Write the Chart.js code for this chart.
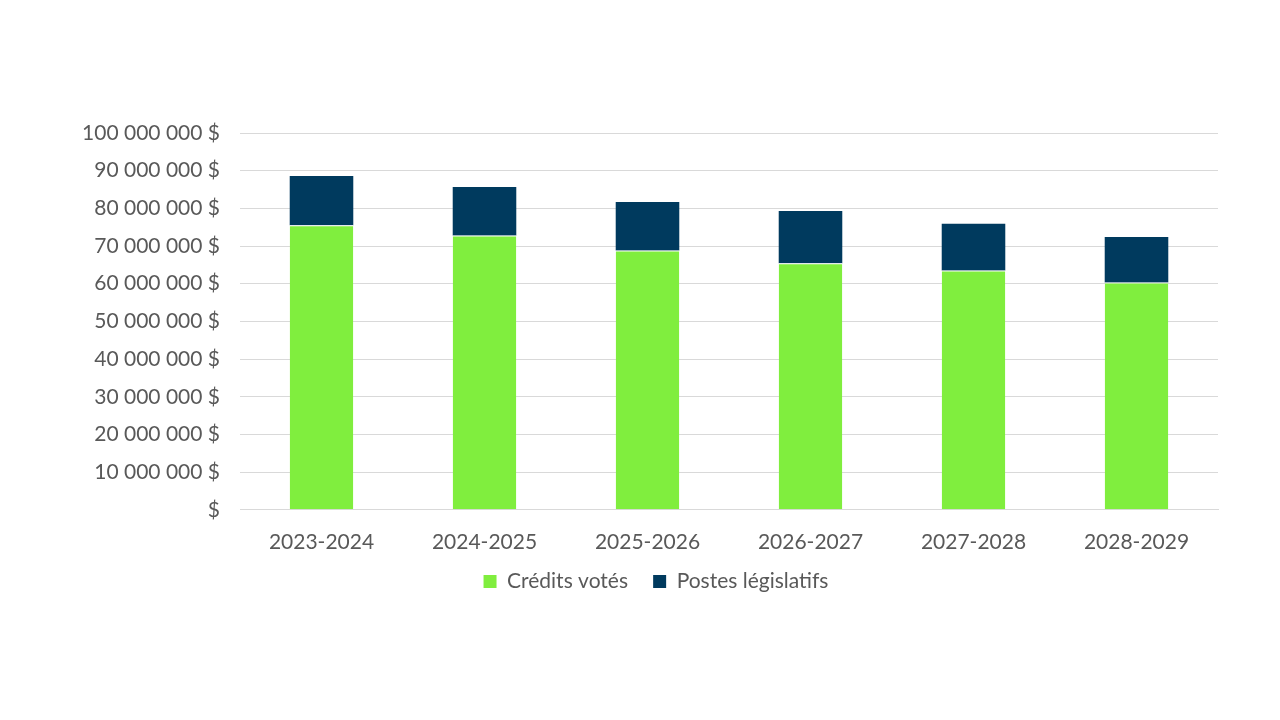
<!DOCTYPE html>
<html>
<head>
<meta charset="utf-8">
<script src="https://cdn.jsdelivr.net/npm/chart.js@4/dist/chart.umd.min.js"></script>
<style>
  html, body { margin: 0; padding: 0; background: #fff; }
  #wrap { width: 1280px; height: 720px; }
</style>
</head>
<body>
<div id="wrap"><canvas id="c" width="1280" height="720"></canvas></div>
<script>
const categories = ["2023-2024", "2024-2025", "2025-2026", "2026-2027", "2027-2028", "2028-2029"];
const creditsVotes = [75500000, 72800000, 68800000, 65400000, 63500000, 60300000];
const postesLegislatifs = [13100000, 12900000, 12900000, 13900000, 12400000, 12100000];
const seriesNames = ["Crédits votés", "Postes législatifs"];

function fmt(v) {
  if (v === 0) return "$";
  return String(Math.round(v)).replace(/\B(?=(\d{3})+(?!\d))/g, " ") + " $";
}

const shiftLegend = {
  id: "shiftLegend",
  afterLayout(chart) {
    const lg = chart.legend;
    if (!lg) return;
    const target = 656;
    const dx = target - (lg.left + lg.right) / 2;
    lg.left += dx; lg.right += dx;
  }
};

const font = "Lato, 'Open Sans', sans-serif";
new Chart(document.getElementById("c"), {
  type: "bar",
  data: {
    labels: categories,
    datasets: [
      { label: seriesNames[0], data: creditsVotes, backgroundColor: "#80EE3E",
        borderColor: "#ffffff", borderWidth: { top: 1, left: 0, right: 0, bottom: 0 }, borderSkipped: false,
        barPercentage: 0.39, categoryPercentage: 1 },
      { label: seriesNames[1], data: postesLegislatifs, backgroundColor: "#003A5E",
        borderWidth: 0, barPercentage: 0.39, categoryPercentage: 1 }
    ]
  },
  plugins: [shiftLegend],
  options: {
    responsive: false,
    animation: false,
    layout: { padding: { top: 133, bottom: 118, left: 0, right: 62 } },
    plugins: {
      legend: {
        position: "bottom",
        labels: {
          color: "#595959", font: { family: font, size: 21 }, boxWidth: 13, boxHeight: 13, padding: 4,
          generateLabels: (chart) => {
            const items = Chart.defaults.plugins.legend.labels.generateLabels(chart);
            items.forEach((it, i) => { it.lineWidth = 0; if (i < items.length - 1) it.text = it.text + "\u2003 "; });
            return items;
          }
        }
      },
      tooltip: { enabled: false }
    },
    scales: {
      x: {
        stacked: true,
        grid: { display: false },
        border: { display: true, color: "#d9d9d9" },
        ticks: { color: "#595959", font: { family: font, size: 21 }, padding: 12 }
      },
      y: {
        stacked: true,
        min: 0, max: 100000000,
        afterFit: (s) => { s.width = 240; },
        grid: { color: "#d9d9d9", drawTicks: false },
        border: { display: false },
        ticks: { stepSize: 10000000, color: "#595959", font: { family: font, size: 21 }, padding: 20, callback: (v) => fmt(v) }
      }
    }
  }
});
</script>
</body>
</html>
